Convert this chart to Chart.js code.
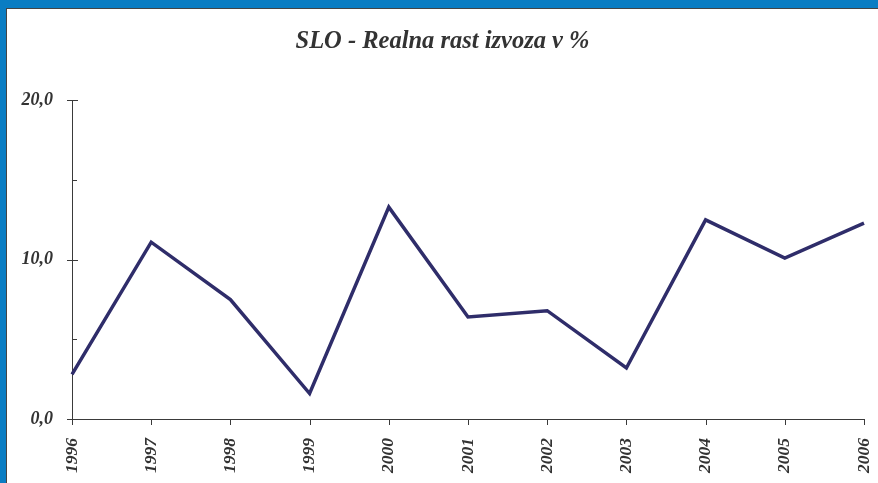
<!DOCTYPE html>
<html>
<head>
<meta charset="utf-8">
<script src="https://cdn.jsdelivr.net/npm/chart.js@4.4.1/dist/chart.umd.min.js"></script>
<style>
    html, body { margin: 0; padding: 0; width: 878px; height: 483px; overflow: hidden; background: #0A7DC3; }
    #panel { position: absolute; left: 6px; top: 8px; right: 0; bottom: 0; background: #fff;
             border-left: 1px solid #444; border-top: 1px solid #444; }
    #wrap { position: absolute; left: 0; top: 0; width: 878px; height: 483px; }
</style>
</head>
<body>
<div id="panel"></div>
<div id="wrap"><canvas id="the-graph" width="878" height="483"></canvas></div>
<script>
/*
 *  Data
 */
let years = ['1996', '1997', '1998', '1999', '2000', '2001', '2002', '2003', '2004', '2005', '2006'];
let exportGrowth = [2.8, 11.1, 7.5, 1.6, 13.3, 6.4, 6.8, 3.2, 12.5, 10.1, 12.3];
let yMajorTicks = [0, 10, 20];
let yMinorTicks = [5, 15];

let axisColor = '#3a3a3a';
let textColor = '#333333';
let serif = '"Liberation Serif", "Times New Roman", serif';

/*
 *  Tick marks like the original (crossing major, inner minor)
 */
let tickMarks = {
    id: 'tickMarks',
    afterDraw(chart) {
        let ctx = chart.ctx;
        let xs = chart.scales.x, ys = chart.scales.y;
        let ax = chart.chartArea.left, ay = chart.chartArea.bottom;
        ctx.save();
        ctx.strokeStyle = axisColor;
        ctx.lineWidth = 1;
        ctx.beginPath();
        yMajorTicks.forEach(v => {
            let py = Math.round(ys.getPixelForValue(v)) + 0.5;
            ctx.moveTo(ax - 5, py);
            ctx.lineTo(ax + 6, py);
        });
        yMinorTicks.forEach(v => {
            let py = Math.round(ys.getPixelForValue(v)) + 0.5;
            ctx.moveTo(ax, py);
            ctx.lineTo(ax + 5, py);
        });
        years.forEach((y, i) => {
            let px = Math.round(xs.getPixelForValue(i)) + 0.5;
            ctx.moveTo(px, ay);
            ctx.lineTo(px, ay + 6);
        });
        ctx.stroke();
        ctx.restore();
    }
};

document.addEventListener("DOMContentLoaded", ()=> {
    let content = document.getElementById('the-graph').getContext('2d');
    new Chart(content, {
        type: 'line',
        data: {
            labels: years,
            datasets: [
                {
                    label: 'SLO',
                    borderColor: '#2F2D6A',
                    borderWidth: 3.5,
                    fill: false,
                    pointRadius: 0,
                    tension: 0,
                    data: exportGrowth,
                },
            ]
        },
        plugins: [tickMarks],
        options: {
            responsive: false,
            animation: false,
            devicePixelRatio: 1,
            layout: { padding: { left: 7, right: 0, top: 0, bottom: 0 } },
            plugins: {
                legend: { display: false },
                tooltip: { enabled: false },
                title: {
                    display: true,
                    text: 'SLO - Realna rast izvoza v %',
                    color: textColor,
                    font: { family: serif, size: 24.5, style: 'italic', weight: 'bold' },
                    padding: { top: 27, bottom: 44 },
                }
            },
            scales: {
                x: {
                    offset: false,
                    grid: { display: false },
                    border: { display: true, color: axisColor, width: 1 },
                    ticks: {
                        color: textColor,
                        minRotation: 90,
                        maxRotation: 90,
                        padding: 11,
                        font: { family: serif, size: 17.5, style: 'italic', weight: 'bold' },
                    },
                    afterFit(scale) {
                        scale.height = 64;
                        scale.paddingLeft = 0;
                        scale.paddingRight = 14;
                    }
                },
                y: {
                    min: 0,
                    max: 20,
                    grid: { display: false },
                    border: { display: true, color: axisColor, width: 1 },
                    ticks: {
                        stepSize: 10,
                        color: textColor,
                        padding: 11,
                        font: { family: serif, size: 18, style: 'italic', weight: 'bold' },
                        callback: v => v.toFixed(1).replace('.', ','),
                    },
                    afterFit(scale) {
                        scale.width = 65;
                        scale.paddingTop = 0;
                        scale.paddingBottom = 0;
                    }
                }
            }
        }
    });
});
</script>
</body>
</html>
